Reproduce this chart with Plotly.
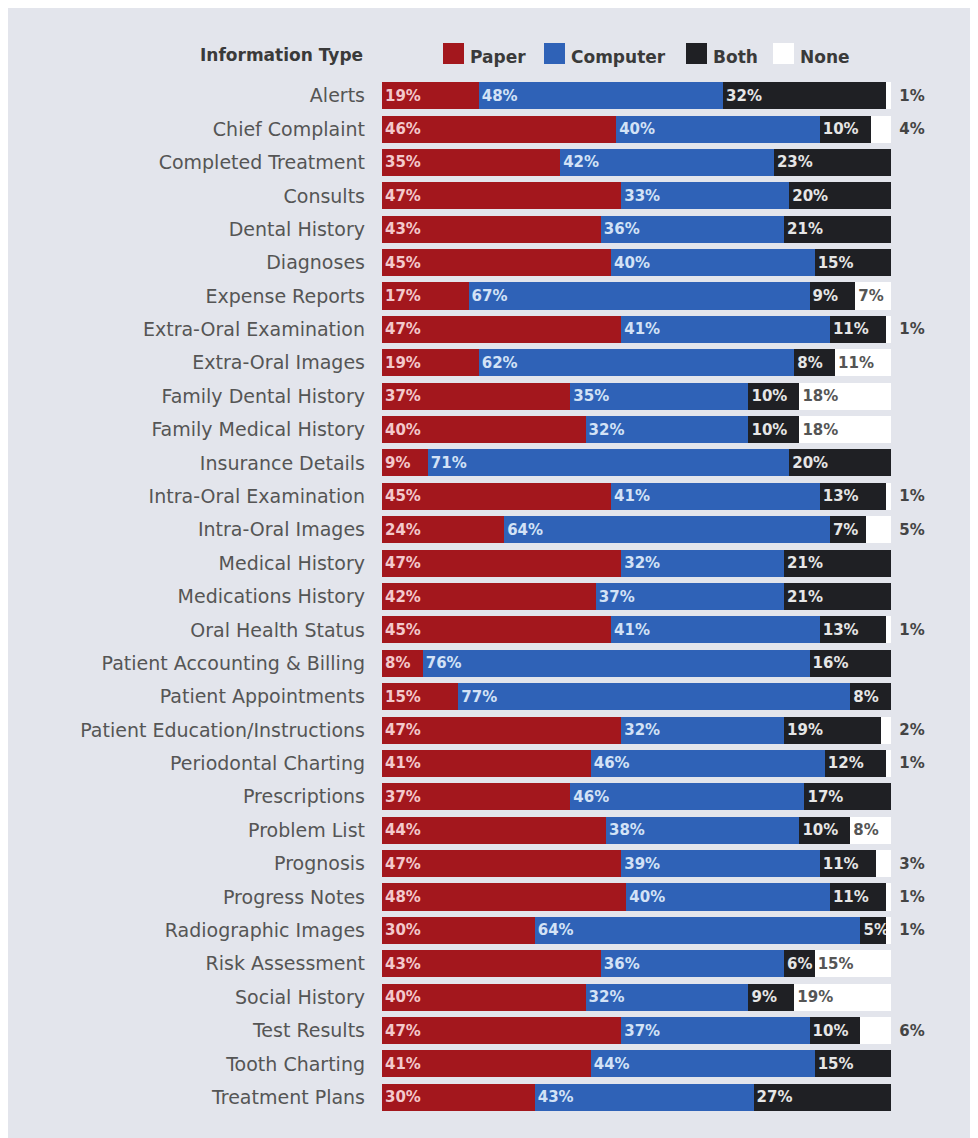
import plotly.graph_objects as go

categories = ["Alerts", "Chief Complaint", "Completed Treatment", "Consults", "Dental History",
              "Diagnoses", "Expense Reports", "Extra-Oral Examination", "Extra-Oral Images",
              "Family Dental History", "Family Medical History", "Insurance Details",
              "Intra-Oral Examination", "Intra-Oral Images", "Medical History",
              "Medications History", "Oral Health Status", "Patient Accounting & Billing",
              "Patient Appointments", "Patient Education/Instructions", "Periodontal Charting",
              "Prescriptions", "Problem List", "Prognosis", "Progress Notes",
              "Radiographic Images", "Risk Assessment", "Social History", "Test Results",
              "Tooth Charting", "Treatment Plans"]
paper = [19, 46, 35, 47, 43, 45, 17, 47, 19, 37, 40, 9, 45, 24, 47, 42, 45, 8, 15, 47, 41, 37, 44, 47, 48, 30, 43, 40, 47, 41, 30]
computer = [48, 40, 42, 33, 36, 40, 67, 41, 62, 35, 32, 71, 41, 64, 32, 37, 41, 76, 77, 32, 46, 46, 38, 39, 40, 64, 36, 32, 37, 44, 43]
both = [32, 10, 23, 20, 21, 15, 9, 11, 8, 10, 10, 20, 13, 7, 21, 21, 13, 16, 8, 19, 12, 17, 10, 11, 11, 5, 6, 9, 10, 15, 27]
none = [1, 4, 0, 0, 0, 0, 7, 1, 11, 18, 18, 0, 1, 5, 0, 0, 1, 0, 0, 2, 1, 0, 8, 3, 1, 1, 15, 19, 6, 0, 0]

series = [("Paper", paper, "#a3171d", "#f3c9cc"),
          ("Computer", computer, "#2f62b7", "#d3e2f6"),
          ("Both", both, "#1f2024", "#e6e6e6"),
          ("None", none, "#ffffff", "#555555")]

BG = "#e3e5ec"
FONT = "DejaVu Sans"

L, R, T, B = 374, 95, 71, 32
PW = 978 - L - R
PH = 1138 - T - B

fig = go.Figure()
for name, vals, color, tcolor in series:
    if name == "None":
        pos = ["inside" if v >= 7 else "outside" for v in vals]
        texts = [("" if v == 0 else (f"{v}%" if v >= 7 else f" {v}%")) for v in vals]
    else:
        pos = ["inside"] * len(vals)
        texts = [f"{v}%" if v > 0 else "" for v in vals]
    fig.add_trace(go.Bar(
        y=categories, x=vals, name=name, orientation="h",
        marker=dict(color=color, line=dict(width=0)),
        text=texts, textposition=pos, insidetextanchor="start", textangle=0,
        textfont=dict(family=FONT, size=15, color=tcolor, weight="bold"),
        outsidetextfont=dict(family=FONT, size=15, color="#444444", weight="bold"),
        cliponaxis=False, showlegend=False, hoverinfo="skip",
    ))

fig.update_layout(
    width=978, height=1138,
    barmode="stack", bargap=0.19,
    paper_bgcolor=BG, plot_bgcolor=BG,
    margin=dict(l=L, r=R, t=T, b=B),
    uniformtext=dict(minsize=15, mode="show"),
    xaxis=dict(range=[0, 100], visible=False, fixedrange=True),
    yaxis=dict(autorange="reversed", showgrid=False, zeroline=False, showline=False,
               ticks="", ticklabelstandoff=16,
               tickfont=dict(family=FONT, size=19, color="#555555")),
    font=dict(family=FONT),
)

# header and legend
fig.add_annotation(xref="paper", yref="paper", x=-17/PW, y=1 + 24/PH, xanchor="right", yanchor="middle",
                   text="<b>Information Type</b>", showarrow=False,
                   font=dict(family=FONT, size=17, color="#3a3a3a"))
legend_items = [("Paper", "#a3171d", 443), ("Computer", "#2f62b7", 544),
                ("Both", "#1f2024", 686), ("None", "#ffffff", 773)]
for label, color, px in legend_items:
    x0 = (px - 382) / PW
    x1 = (px + 21 - 382) / PW
    fig.add_shape(type="rect", xref="paper", yref="paper", x0=x0, x1=x1,
                  y0=1 + 15/PH, y1=1 + 36/PH, fillcolor=color, line=dict(width=0))
    fig.add_annotation(xref="paper", yref="paper", x=x1 + 4/PW, y=1 + 22/PH,
                       xanchor="left", yanchor="middle", text="<b>" + label + "</b>", showarrow=False,
                       font=dict(family=FONT, size=17, color="#3a3a3a"))

fig.write_html("out.html")
